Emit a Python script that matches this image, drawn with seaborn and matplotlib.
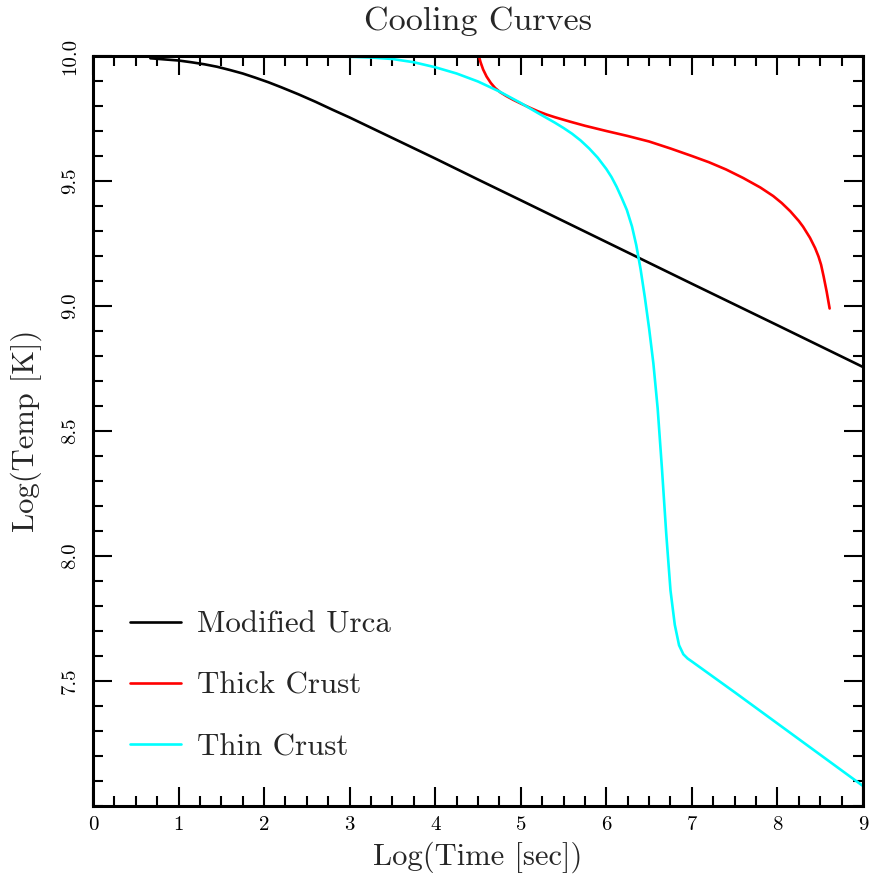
import matplotlib
matplotlib.use("Agg")
import matplotlib.pyplot as plt
import pandas as pd
import seaborn as sns
from matplotlib.ticker import MultipleLocator

# Modified Urca cooling
urca_logt = [0.67, 0.85, 1.0, 1.15, 1.3, 1.45, 1.6, 1.75, 1.9, 2.05, 2.2, 2.4, 2.6,
             2.8, 3.0, 3.25, 3.5, 3.75, 4.0, 4.5, 5.0, 6.0, 7.0, 8.0, 9.0]
urca_logT = [9.991, 9.986, 9.982, 9.975, 9.967, 9.957, 9.944, 9.930, 9.913, 9.895,
             9.875, 9.847, 9.817, 9.785, 9.754, 9.713, 9.672, 9.631, 9.590, 9.506,
             9.423, 9.256, 9.089, 8.923, 8.756]

# Thick crust
thick_logt = [4.51, 4.53, 4.56, 4.60, 4.65, 4.70, 4.76, 4.83, 4.91, 5.0, 5.1, 5.2,
              5.3, 5.4, 5.58, 5.75, 6.0, 6.25, 6.5, 6.75, 7.0, 7.2, 7.4, 7.6, 7.8,
              7.95, 8.05, 8.15, 8.25, 8.3, 8.38, 8.44, 8.48, 8.51, 8.54, 8.575, 8.61]
thick_logT = [10.0, 9.975, 9.946, 9.918, 9.892, 9.872, 9.855, 9.840, 9.825, 9.810,
              9.794, 9.779, 9.766, 9.755, 9.737, 9.721, 9.700, 9.680, 9.658, 9.630,
              9.600, 9.575, 9.546, 9.512, 9.474, 9.440, 9.412, 9.379, 9.340, 9.317,
              9.273, 9.232, 9.198, 9.165, 9.118, 9.058, 8.990]

# Thin crust
thin_logt = [0.67, 2.0, 2.5, 3.0, 3.25, 3.5, 3.75, 4.0, 4.25, 4.5, 4.75, 5.0, 5.2,
             5.4, 5.5, 5.6, 5.7, 5.8, 5.9, 6.0, 6.06, 6.12, 6.18, 6.24, 6.3, 6.35,
             6.4, 6.45, 6.5, 6.55, 6.6, 6.65, 6.7, 6.75, 6.8, 6.85, 6.9, 6.95, 7.0,
             7.5, 8.0, 8.5, 9.0]
thin_logT = [10.0, 10.0, 9.999, 9.997, 9.994, 9.988, 9.975, 9.955, 9.930, 9.898,
             9.858, 9.812, 9.772, 9.733, 9.712, 9.689, 9.662, 9.630, 9.593, 9.548,
             9.516, 9.477, 9.432, 9.384, 9.318, 9.243, 9.148, 9.035, 8.910, 8.770,
             8.590, 8.350, 8.090, 7.862, 7.725, 7.643, 7.607, 7.590, 7.578, 7.455,
             7.330, 7.205, 7.080]

series_names = ["Modified Urca", "Thick Crust", "Thin Crust"]
series_colors = ["black", "red", "cyan"]

x_ticks = [0, 1, 2, 3, 4, 5, 6, 7, 8, 9]
y_ticks = [7.5, 8.0, 8.5, 9.0, 9.5, 10.0]

sns.set_style("ticks")
plt.rcParams.update({
    "font.family": "serif",
    "font.serif": ["cmr10", "DejaVu Serif"],
    "mathtext.fontset": "cm",
    "axes.formatter.use_mathtext": True,
    "axes.unicode_minus": False,
})

frames = []
for name, t, T in [(series_names[0], urca_logt, urca_logT),
                   (series_names[1], thick_logt, thick_logT),
                   (series_names[2], thin_logt, thin_logT)]:
    frames.append(pd.DataFrame({"logt": t, "logT": T, "model": name}))
df = pd.concat(frames, ignore_index=True)

fig = plt.figure(figsize=(8.70, 8.82), dpi=100)
ax = fig.add_axes([93 / 870, 1 - 806 / 882, 770 / 870, 750 / 882])

sns.lineplot(data=df, x="logt", y="logT", hue="model", hue_order=series_names,
             palette=series_colors, estimator=None, sort=False, linewidth=1.9, ax=ax)

ax.set_xlim(0, 9)
ax.set_ylim(7.0, 10.0)
ax.set_xticks(x_ticks)
ax.set_xticklabels([str(v) for v in x_ticks])
ax.set_yticks(y_ticks)
ax.set_yticklabels([f"{v:.1f}" for v in y_ticks])
ax.xaxis.set_minor_locator(MultipleLocator(0.25))
ax.yaxis.set_minor_locator(MultipleLocator(0.1))

ax.tick_params(which="both", direction="in", top=True, right=True, width=1.5, colors="black")
ax.tick_params(which="major", length=14)
ax.tick_params(which="minor", length=7)
ax.tick_params(axis="x", which="major", labelsize=15, pad=7)
ax.tick_params(axis="y", which="major", labelsize=15, pad=10, labelrotation=90)
for lab in ax.get_yticklabels():
    lab.set_verticalalignment("center")

for sp in ax.spines.values():
    sp.set_linewidth(2.2)
    sp.set_color("black")

ax.set_xlabel("Log(Time [sec])", fontsize=22, labelpad=6)
ax.set_ylabel("Log(Temp [K])", fontsize=22, labelpad=14)
ax.set_title("Cooling Curves", fontsize=24.5, pad=19)

leg = ax.legend(loc="lower left", bbox_to_anchor=(0.0318, 0.0433), borderaxespad=0,
                frameon=False, fontsize=22.3, handlelength=1.65,
                handletextpad=0.52, labelspacing=1.08)
for line in leg.get_lines():
    line.set_linewidth(1.9)

fig.savefig("out.png", dpi=100)
